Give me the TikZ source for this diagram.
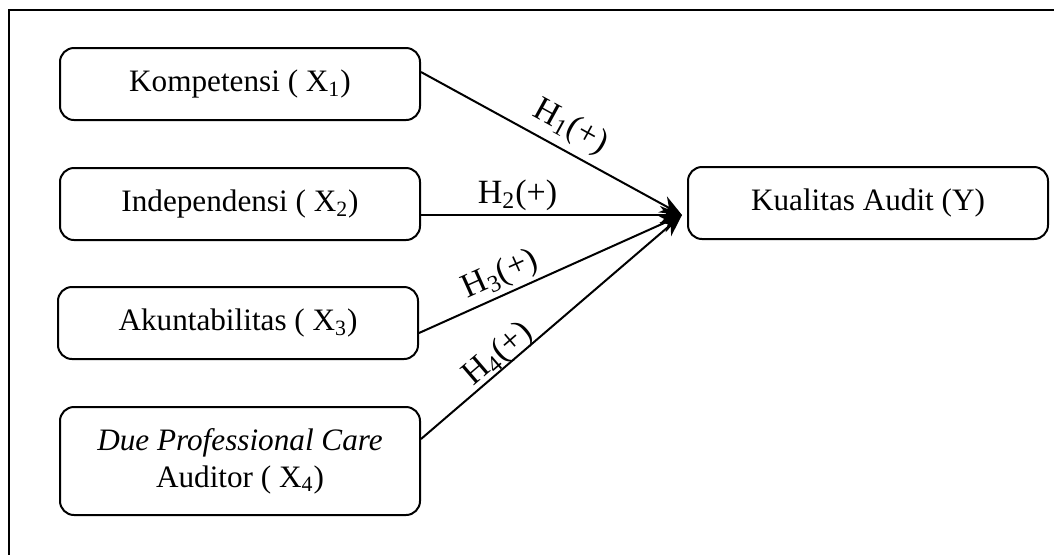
\documentclass[tikz,border=0pt]{standalone}
\usepackage{fontspec}
\setmainfont{Liberation Serif}
\usetikzlibrary{arrows.meta, calc}

\tikzset{
  varbox/.style={draw, line width=1pt, rounded corners=7pt, minimum width=180pt,
    minimum height=36pt, align=center, inner sep=2pt},
  hyplink/.style={line width=1pt, -{Stealth[length=11pt, width=9pt]}},
  hyplabel/.style={sloped, above, inner sep=1.5pt, font=\fontsize{17}{20}\selectfont}
}

\begin{document}
\begin{tikzpicture}[x=0.5pt, y=-0.5pt, font=\fontsize{15.6}{18.5}\selectfont]
  \useasboundingbox (0,0) rectangle (1054,554);
  % Frame (only top and left edges show)
  \draw[line width=1pt] (9,600) -- (9,10) -- (1100,10);
  % Independent variables
  \node[varbox] (komp) at (240,84) {Kompetensi ( X\textsubscript{1})};
  \node[varbox] (indep) at (240,204) {Independensi ( X\textsubscript{2})};
  \node[varbox] (akun) at (238,323) {Akuntabilitas ( X\textsubscript{3})};
  \node[varbox, minimum height=54pt] (care) at (240,461)
    {\textit{Due Professional Care}\\Auditor ( X\textsubscript{4})};
  % Dependent variable
  \node[varbox] (kual) at (868,203) {Kualitas Audit (Y)};
  % Hub where the arrows meet
  \coordinate (hub) at (682,215);
  % Hypotheses
  \draw[hyplink] ([yshift=6pt]komp.east) -- (hub)
    node[hyplabel, pos=0.53, above=2pt] {H\textsubscript{1}(+)};
  \draw[hyplink] ([yshift=-5.5pt]indep.east) -- (hub)
    node[hyplabel, pos=0.37] {H\textsubscript{2}(+)};
  \draw[hyplink] ([yshift=-5pt]akun.east) -- (hub)
    node[hyplabel, pos=0.34] {H\textsubscript{3}(+)};
  \draw[hyplink] ([yshift=11pt]care.east) -- (hub)
    node[hyplabel, pos=0.33, above=-3pt] {H\textsubscript{4}(+)};
\end{tikzpicture}
\end{document}
